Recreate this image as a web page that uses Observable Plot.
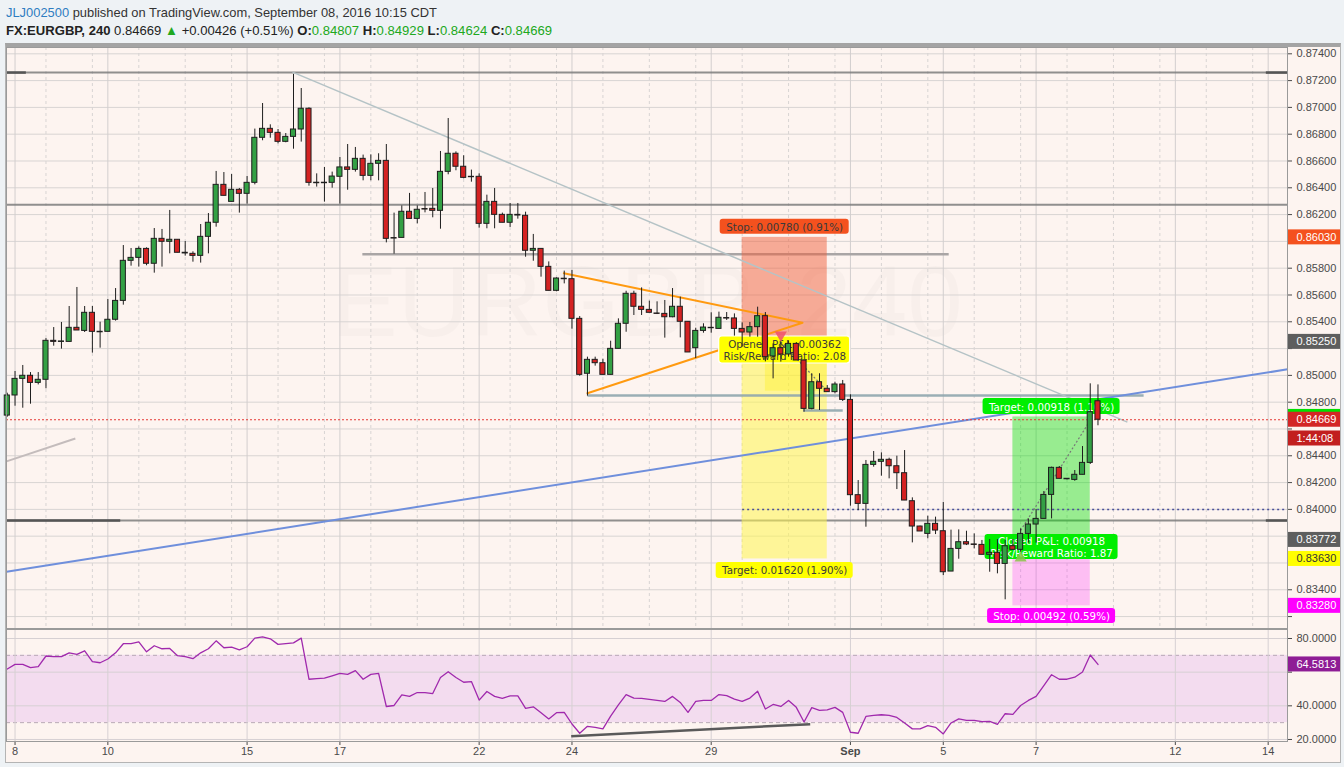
<!DOCTYPE html>
<html><head><meta charset="utf-8">
<script src="https://cdn.jsdelivr.net/npm/d3@7"></script>
<script src="https://cdn.jsdelivr.net/npm/@observablehq/plot@0.6"></script>
<style>
html,body{margin:0;padding:0;width:1344px;height:767px;overflow:hidden;background:#eef2f5;font-family:"Liberation Sans",Arial,sans-serif;}
#frame{position:absolute;left:5px;top:43px;width:1336px;height:720px;box-sizing:border-box;background:#fdf4f0;border-top:4px solid #a4a4a4;border-left:1px solid #b4b4b4;border-right:1px solid #b4b4b4;border-bottom:1px solid #b4b4b4;}
#price{position:absolute;left:6px;top:47px;}
#rsi{position:absolute;left:6px;top:629px;}
svg{overflow:visible;}
</style></head>
<body>
<svg id="hdr" width="1344" height="43" style="position:absolute;left:0;top:0">
<text x="6" y="17" font-family="Liberation Sans, Arial, sans-serif" font-size="13.5" fill="#333" textLength="431" lengthAdjust="spacingAndGlyphs"><tspan fill="#2e7dc1">JLJ002500</tspan> published on TradingView.com, September 08, 2016 10:15 CDT</text>
<text x="6" y="35" font-family="Liberation Sans, Arial, sans-serif" font-size="13.5" fill="#222" textLength="546" lengthAdjust="spacingAndGlyphs"><tspan font-weight="bold">FX:EURGBP, 240</tspan> 0.84669 <tspan fill="#20a820">▲</tspan> +0.00426 (+0.51%) <tspan font-weight="bold">O:</tspan><tspan fill="#20a820">0.84807</tspan> <tspan font-weight="bold">H:</tspan><tspan fill="#20a820">0.84929</tspan> <tspan font-weight="bold">L:</tspan><tspan fill="#20a820">0.84624</tspan> <tspan font-weight="bold">C:</tspan><tspan fill="#20a820">0.84669</tspan></text>
</svg>
<div id="frame"></div>
<div id="price"></div>
<div id="rsi"></div>
<script>
// ---------- DATA ----------
const openP = [0.84700,0.84850,0.84974,0.84997,0.84944,0.84967,0.85258,0.85250,0.85250,0.85355,
 0.85332,0.85467,0.85325,0.85325,0.85415,0.85556,0.85855,0.85877,0.85944,0.85833,
 0.86019,0.85997,0.86012,0.85915,0.85907,0.85892,0.86034,0.86139,0.86422,0.86295,
 0.86385,0.86355,0.86437,0.86773,0.86840,0.86810,0.86743,0.86780,0.86835,0.86990,
 0.86435,0.86435,0.86437,0.86482,0.86552,0.86534,0.86616,0.86489,0.86579,0.86601,
 0.86024,0.86026,0.86221,0.86168,0.86241,0.86243,0.86228,0.86519,0.86654,0.86557,
 0.86479,0.86482,0.86131,0.86295,0.86198,0.86139,0.86198,0.86191,0.85930,0.85944,
 0.85810,0.85631,0.85721,0.85718,0.85422,0.85012,0.85116,0.85091,0.85004,0.85198,
 0.85385,0.85609,0.85512,0.85489,0.85462,0.85459,0.85434,0.85512,0.85400,0.85203,
 0.85332,0.85355,0.85347,0.85427,0.85425,0.85347,0.85320,0.85360,0.85442,0.85141,
 0.85203,0.85156,0.85235,0.85111,0.84750,0.84949,0.84900,0.84875,0.84932,0.84817,
 0.84106,0.84041,0.84332,0.84355,0.84370,0.84322,0.84270,0.84061,0.83872,0.83817,
 0.83892,0.83837,0.83536,0.83705,0.83755,0.83738,0.83735,0.83661,0.83676,0.83593,
 0.83725,0.83698,0.83817,0.83887,0.83929,0.84108,0.84310,0.84228,0.84220,0.84258,
 0.84347,0.84807];
const highP = [0.84867,0.85029,0.85074,0.85021,0.85021,0.85275,0.85357,0.85395,0.85514,0.85656,
 0.85514,0.85514,0.85397,0.85566,0.85648,0.85969,0.85947,0.85959,0.85952,0.86096,
 0.86089,0.86231,0.86012,0.85999,0.85922,0.86126,0.86208,0.86522,0.86514,0.86499,
 0.86395,0.86484,0.86838,0.87029,0.86870,0.86835,0.86805,0.87246,0.87141,0.86997,
 0.86504,0.86552,0.86517,0.86626,0.86723,0.86701,0.86644,0.86646,0.86654,0.86723,
 0.86211,0.86265,0.86358,0.86265,0.86365,0.86395,0.86671,0.86917,0.86668,0.86639,
 0.86532,0.86504,0.86345,0.86395,0.86211,0.86283,0.86283,0.86218,0.86052,0.85944,
 0.85847,0.85728,0.85778,0.85783,0.85439,0.85136,0.85136,0.85121,0.85255,0.85422,
 0.85628,0.85628,0.85653,0.85554,0.85549,0.85559,0.85648,0.85584,0.85402,0.85352,
 0.85385,0.85467,0.85472,0.85469,0.85459,0.85392,0.85395,0.85509,0.85469,0.85235,
 0.85248,0.85258,0.85245,0.85116,0.85012,0.85012,0.84924,0.84949,0.84962,0.84855,
 0.84215,0.84365,0.84432,0.84422,0.84382,0.84397,0.84439,0.84086,0.83875,0.83949,
 0.83942,0.84051,0.83845,0.83847,0.83837,0.83817,0.83768,0.83775,0.83775,0.83768,
 0.83775,0.83855,0.83929,0.83999,0.84133,0.84315,0.84320,0.84228,0.84290,0.84469,
 0.84937,0.84929];
const lowP = [0.84688,0.84770,0.84755,0.84785,0.84929,0.84900,0.85218,0.85196,0.85250,0.85335,
 0.85320,0.85166,0.85203,0.85325,0.85405,0.85524,0.85815,0.85808,0.85818,0.85763,
 0.85808,0.85907,0.85915,0.85890,0.85845,0.85838,0.85907,0.86106,0.86340,0.86295,
 0.86211,0.86278,0.86422,0.86751,0.86770,0.86728,0.86736,0.86688,0.86741,0.86412,
 0.86405,0.86293,0.86397,0.86278,0.86382,0.86517,0.86452,0.86452,0.86452,0.85989,
 0.85905,0.86026,0.86168,0.86131,0.86213,0.86176,0.86091,0.86497,0.86527,0.86467,
 0.86442,0.86099,0.86094,0.86094,0.86139,0.86104,0.86166,0.85882,0.85852,0.85733,
 0.85631,0.85624,0.85683,0.85345,0.84994,0.84845,0.85069,0.85004,0.85004,0.85198,
 0.85322,0.85447,0.85447,0.85467,0.85454,0.85278,0.85430,0.85280,0.85171,0.85126,
 0.85315,0.85315,0.85347,0.85410,0.85293,0.85211,0.85285,0.85285,0.85101,0.84974,
 0.85099,0.85136,0.85111,0.84725,0.84743,0.84738,0.84875,0.84862,0.84805,0.84024,
 0.83991,0.83867,0.84315,0.84248,0.84228,0.84148,0.84066,0.83750,0.83835,0.83780,
 0.83812,0.83506,0.83536,0.83628,0.83730,0.83705,0.83661,0.83531,0.83519,0.83325,
 0.83698,0.83680,0.83748,0.83748,0.83929,0.83929,0.84228,0.84220,0.84210,0.84258,
 0.84335,0.84624];
const closeP = [0.84850,0.84974,0.84997,0.84944,0.84967,0.85258,0.85250,0.85253,0.85355,0.85335,
 0.85467,0.85325,0.85322,0.85415,0.85556,0.85855,0.85877,0.85944,0.85833,0.86019,
 0.85997,0.86012,0.85915,0.85910,0.85892,0.86034,0.86139,0.86422,0.86340,0.86385,
 0.86355,0.86437,0.86773,0.86840,0.86810,0.86743,0.86780,0.86835,0.86990,0.86437,
 0.86437,0.86437,0.86484,0.86552,0.86534,0.86616,0.86489,0.86579,0.86601,0.86019,
 0.86022,0.86221,0.86168,0.86236,0.86238,0.86228,0.86519,0.86654,0.86557,0.86474,
 0.86482,0.86131,0.86295,0.86198,0.86139,0.86198,0.86193,0.85930,0.85944,0.85810,
 0.85631,0.85723,0.85718,0.85422,0.85004,0.85116,0.85091,0.85004,0.85198,0.85385,
 0.85609,0.85512,0.85489,0.85467,0.85459,0.85434,0.85512,0.85400,0.85171,0.85332,
 0.85357,0.85352,0.85430,0.85425,0.85347,0.85320,0.85360,0.85442,0.85136,0.85203,
 0.85156,0.85235,0.85111,0.84750,0.84949,0.84900,0.84875,0.84932,0.84817,0.84106,
 0.84041,0.84332,0.84355,0.84370,0.84322,0.84270,0.84066,0.83872,0.83835,0.83892,
 0.83842,0.83531,0.83705,0.83755,0.83738,0.83735,0.83661,0.83676,0.83593,0.83725,
 0.83698,0.83817,0.83887,0.83929,0.84108,0.84310,0.84228,0.84225,0.84258,0.84347,
 0.84725,0.84669];
const rsiValues = [61.9,64.6,64.6,62.7,63.3,69.6,69.2,69.2,71.5,70.6,
 72.7,66.2,65.6,67.8,71.5,76.9,76.9,78.0,72.1,75.7,
 73.9,74.1,69.8,69.2,68.0,71.5,73.9,78.6,74.5,74.9,
 73.3,75.1,80.2,81.0,79.8,76.5,77.0,77.4,80.2,55.8,
 56.2,56.4,57.8,59.3,58.7,60.9,55.8,58.7,59.3,39.6,
 40.2,46.5,45.6,47.9,47.9,47.3,56.8,60.3,56.8,54.0,
 54.4,43.4,48.5,45.6,44.4,45.9,45.9,38.5,39.4,35.9,
 32.2,35.9,36.1,29.2,23.7,27.8,27.2,26.3,33.9,40.6,
 46.7,44.6,44.4,43.8,43.2,42.6,45.6,42.0,36.1,42.6,
 43.2,43.2,46.7,46.1,44.0,42.6,44.6,48.7,38.1,40.8,
 39.6,43.2,39.1,30.4,38.9,37.3,37.6,39.1,36.1,24.3,
 23.7,33.7,34.3,34.7,34.3,33.1,29.8,26.3,26.3,28.2,
 27.2,23.3,29.8,32.2,31.4,31.4,30.6,30.8,29.0,35.3,
 34.9,40.2,43.2,45.6,52.0,58.5,55.8,55.8,57.0,60.1,
 70.2,64.58];

// time axis (candle index of first 4h bar of the day)
const dayTickIndex = [1, 13, 31, 43, 61, 73, 91, 109, 121, 133, 151, 163];
const dayTickLabels = ["8", "10", "15", "17", "22", "24", "29", "Sep", "5", "7", "12", "14"];
const minorGridIndex = [5,11,17,23,29,35,41,47,53,59,65,71,77,83,89,95,101,107,113,119,125,131,137,143,149,155,161];
const priceTicks = [0.832,0.834,0.836,0.838,0.840,0.842,0.844,0.846,0.848,0.850,0.852,0.854,0.856,0.858,0.860,0.862,0.864,0.866,0.868,0.870,0.872,0.874];
const rsiTicks = [20, 40, 60, 80];
const rsiBand = [30, 70];
const lastPrice = 0.84669;
const lastRsi = 64.5813;

// drawings (candle index, price)
const hRayPrices = [0.87260, 0.86273, 0.83917];
const hRayHandles = [{x1: -0.1, x2: 2.4, y: 0.87260}, {x1: 162.7, x2: 165.5, y: 0.87260}, {x1: -0.1, x2: 14.6, y: 0.83917}, {x1: 162.7, x2: 165.5, y: 0.83917}];
const grayLevels = [{x1: 45.9, x2: 121.7, y: 0.85904}];
const steelLevels = [{x1: 75.0, x2: 146.9, y: 0.84850}, {x1: 102.9, x2: 108.0, y: 0.84738}];
const dottedLevel = {x1: 95.0, x2: 165.5, y: 0.84000};
const blueTrend = [{x1: -0.1, y1: 0.83534, x2: 165.5, y2: 0.85045}];
const grayTrend = [{x1: 36.87, y1: 0.87263, x2: 144.8, y2: 0.84651}];
const shortGrayLine = [{x1: -0.1, y1: 0.84358, x2: 8.8, y2: 0.84529}];
const triangleIdx = [71.95, 102.8, 75.0];
const trianglePrice = [0.85763, 0.85393, 0.84867];
const rsiDivergence = [{x1: 72.9, y1: 21.95, x2: 103.8, y2: 29.1}];

const shortPos = {start: 95, end: 106, entry: 0.85250, stop: 0.86030, target: 0.83630, pnlStart: 98, pnlPrice: 0.84882, openIdx: 100};
const longPos = {start: 130, end: 140, entry: 0.83772, stop: 0.83280, target: 0.84690, openIdx: 131, pathFrom: 0.83843, pathTo: 0.84664};
const shortTexts = ["Stop: 0.00780 (0.91%)", "Opened P&L: 0.00362\nRisk/Reward Ratio: 2.08", "Target: 0.01620 (1.90%)"];
const longTexts = ["Target: 0.00918 (1.10%)", "Closed P&L: 0.00918\nRisk/Reward Ratio: 1.87", "Stop: 0.00492 (0.59%)"];

const tagPrices = [0.86030, 0.85250, 0.84690, 0.84669, 0.84529, 0.83772, 0.83630, 0.83280];
const tagTexts  = ["0.86030", "0.85250", "", "0.84669", "1:44:08", "0.83772", "0.83630", "0.83280"];
const tagFills  = ["#f4511e", "#5e5e5e", "#00e000", "#d32626", "#c21f1f", "#5e5e5e", "#ffff00", "#ff00ff"];
const tagInk    = ["#fff", "#fff", "#fff", "#fff", "#fff", "#fff", "#333", "#fff"];

// ---------- CHART ----------
const W = 1334, RIGHT = 53;
const xDomain = [-0.103, 165.5];
const candles = openP.map((o, i) => ({i, o, h: highP[i], l: lowP[i], c: closeP[i]}));
const upCol = "#33a044", dnCol = "#d42222", edge = "#1e1e1e";
const lo = d => { const a = Math.min(d.o, d.c), b = Math.max(d.o, d.c); return b - a < 0.00003 ? (a + b) / 2 - 0.000018 : a; };
const hi = d => { const a = Math.min(d.o, d.c), b = Math.max(d.o, d.c); return b - a < 0.00003 ? (a + b) / 2 + 0.000018 : b; };
const labelFont = "DejaVu Sans, Verdana, sans-serif";
const fmt5 = d3.format(".5f");
// axis labels hidden where a price tag box covers them
const priceLabel = t => tagPrices.some(p => Math.abs(p - t) < 0.00085) ? "" : fmt5(t);
const rsiLabel = t => Math.abs(lastRsi - t) < 6.6 ? "" : d3.format(".4f")(t);

function box(xc, price, halfW, top, bottom, opts) {
  return Plot.rect([0], {x1: () => xc, x2: () => xc, y1: () => price, y2: () => price,
    insetLeft: -halfW, insetRight: -halfW, insetTop: top, insetBottom: -bottom, rx: 3, ...opts});
}
function boxText(xc, price, top, bottom, txt, ink) {
  return Plot.text([txt], {x: () => xc, y: () => price, text: d => d, dy: (top + bottom) / 2,
    fill: ink, fontSize: 10.3, fontFamily: labelFont, lineAnchor: "middle", lineHeight: 1.22});
}
const sC = (shortPos.start + shortPos.end) / 2, lC = (longPos.start + longPos.end) / 2;

const price = Plot.plot({
  width: W, height: 581, marginLeft: 0, marginRight: RIGHT, marginTop: 0, marginBottom: 0,
  x: {domain: xDomain, axis: null},
  y: {domain: [0.83111, 0.87447]},
  style: {background: "none", fontFamily: "Liberation Sans, Arial, sans-serif", fontSize: "11px", color: "#4a4a4a", overflow: "visible"},
  marks: [
    Plot.text(["EURGBP, 240"], {frameAnchor: "middle", dy: -34, fontSize: 100, fill: "#000", fillOpacity: 0.018, fontFamily: "Liberation Sans, Arial"}),
    Plot.text(["Euro / British Pound"], {frameAnchor: "middle", dy: 45, fontSize: 44, fill: "#000", fillOpacity: 0.018, fontFamily: "Liberation Sans, Arial"}),
    Plot.gridY(priceTicks, {stroke: "#d8d4d3", strokeOpacity: 1}),
    Plot.ruleX(minorGridIndex, {stroke: "#d8d4d3", strokeDasharray: "3,3"}),
    Plot.ruleX(dayTickIndex, {stroke: "#d2cece"}),
    // horizontal rays
    Plot.ruleY(hRayPrices, {stroke: "#7d7d7d", strokeWidth: 2, strokeOpacity: 0.85}),
    Plot.link(hRayHandles, {x1: "x1", x2: "x2", y1: "y", y2: "y", stroke: "#555", strokeWidth: 2.5}),
    Plot.link(grayLevels, {x1: "x1", x2: "x2", y1: "y", y2: "y", stroke: "#a9a5a5", strokeWidth: 2.5}),
    // positions
    Plot.rect([shortPos], {x1: "start", x2: "end", y1: "entry", y2: "stop", fill: "#f0603c", fillOpacity: 0.5}),
    Plot.rect([shortPos], {x1: "start", x2: "end", y1: "target", y2: "entry", fill: "#fff650", fillOpacity: 0.55}),
    Plot.rect([shortPos], {x1: "pnlStart", x2: "end", y1: "pnlPrice", y2: "entry", fill: "#ffee00", fillOpacity: 0.3}),
    Plot.rect([longPos], {x1: "start", x2: "end", y1: "entry", y2: "target", fill: "#00e000", fillOpacity: 0.4}),
    Plot.rect([longPos], {x1: "start", x2: "end", y1: "stop", y2: "entry", fill: "#ff00ff", fillOpacity: 0.22}),
    Plot.link(steelLevels, {x1: "x1", x2: "x2", y1: "y", y2: "y", stroke: "#8fa6ae", strokeWidth: 2.5, strokeOpacity: 0.9}),
    Plot.link([dottedLevel], {x1: "x1", x2: "x2", y1: "y", y2: "y", stroke: "#4a4f9a", strokeWidth: 1.5, strokeDasharray: "2,3"}),
    Plot.link(blueTrend, {x1: "x1", y1: "y1", x2: "x2", y2: "y2", stroke: "#6f8fdc", strokeWidth: 2}),
    Plot.link(grayTrend, {x1: "x1", y1: "y1", x2: "x2", y2: "y2", stroke: "#b5c3c6", strokeWidth: 1.5}),
    Plot.link(shortGrayLine, {x1: "x1", y1: "y1", x2: "x2", y2: "y2", stroke: "#c4bcbc", strokeWidth: 2}),
    Plot.line(triangleIdx, {x: d => d, y: (d, i) => trianglePrice[i], stroke: "#ff9a10", strokeWidth: 2}),
    Plot.ruleY([lastPrice], {stroke: "#e53935", strokeDasharray: "2,2", strokeWidth: 1}),
    // position labels
    box(sC, shortPos.stop, 64.5, -18, -3, {fill: "#f4511e"}),
    boxText(sC, shortPos.stop, -18, -3, shortTexts[0], "#3a3a3a"),
    box(sC, shortPos.entry, 65.5, -5.4, 21.6, {fill: "#ffff00", stroke: "#fff", strokeWidth: 1.2}),
    boxText(sC, shortPos.entry, -5.4, 21.6, shortTexts[1], "#3a3a3a"),
    box(sC, shortPos.target, 68.5, 3.5, 19.5, {fill: "#ffff00"}),
    boxText(sC, shortPos.target, 3.5, 19.5, shortTexts[2], "#3a3a3a"),
    box(lC, longPos.target, 68.5, -18.4, -2.4, {fill: "#00ee00"}),
    boxText(lC, longPos.target, -18.4, -2.4, longTexts[0], "#fff"),
    box(lC, longPos.entry, 66.5, -5.5, 19.5, {fill: "#00ee00"}),
    boxText(lC, longPos.entry, -5.5, 19.5, longTexts[1], "#fff"),
    box(lC, longPos.stop, 64, 2.6, 17.6, {fill: "#ff00ff"}),
    boxText(lC, longPos.stop, 2.6, 17.6, longTexts[2], "#fff"),
    Plot.link([shortPos], {x1: "openIdx", y1: "entry", x2: "end", y2: "pnlPrice", stroke: "#777", strokeDasharray: "2,2", strokeWidth: 1.2}),
    Plot.link([longPos], {x1: "openIdx", y1: "pathFrom", x2: "end", y2: "pathTo", stroke: "#777", strokeDasharray: "2,2", strokeWidth: 1.2}),
    Plot.dot([shortPos], {x: "openIdx", y: "entry", dy: -7, symbol: "triangle", rotate: 180, r: 4.5, fill: "#f0506a", fillOpacity: 0.85}),
    Plot.dot([longPos], {x: "openIdx", y: "entry", dy: 18, symbol: "triangle", r: 4.5, fill: "#8bc34a", fillOpacity: 0.85}),
    // candles
    Plot.ruleX(candles, {x: "i", y1: "l", y2: "h", stroke: edge, strokeWidth: 1}),
    Plot.rect(candles, {x1: d => d.i - 0.33, x2: d => d.i + 0.33, y1: lo, y2: hi, fill: d => d.c >= d.o ? upCol : dnCol, stroke: edge, strokeWidth: 1}),
    // axis + tags
    Plot.axisY(priceTicks, {anchor: "right", tickSize: 4, tickPadding: 5, tickFormat: priceLabel}),
    Plot.rect(tagPrices, {x1: () => xDomain[1], x2: () => xDomain[1], y1: d => d, y2: d => d, insetLeft: 1, insetRight: -RIGHT, insetTop: -7.5, insetBottom: -7.5, fill: (d, i) => tagFills[i]}),
    Plot.text(tagPrices, {y: d => d, text: (d, i) => tagTexts[i], frameAnchor: "right", dx: 9, textAnchor: "start", fill: (d, i) => tagInk[i], fontSize: 11}),
    Plot.frame({stroke: "#9a9a9a"})
  ]
});
document.getElementById("price").appendChild(price);

const labelMap = new Map(dayTickIndex.map((d, i) => [d, dayTickLabels[i]]));
const rsi = Plot.plot({
  width: W, height: 133, marginLeft: 0, marginRight: RIGHT, marginTop: 0, marginBottom: 21,
  x: {domain: xDomain},
  y: {domain: [18.8, 85.35]},
  style: {background: "none", fontFamily: "Liberation Sans, Arial, sans-serif", fontSize: "11px", color: "#4a4a4a", overflow: "visible"},
  marks: [
    Plot.rect([rsiBand], {x1: () => xDomain[0], x2: () => xDomain[1], y1: d => d[0], y2: d => d[1], fill: "#f3dcef"}),
    Plot.gridY(rsiTicks, {stroke: "#d6d0d3", strokeOpacity: 1}),
    Plot.ruleY(rsiBand, {stroke: "#b9a9b6", strokeDasharray: "4,3"}),
    Plot.ruleX(dayTickIndex, {stroke: "#d6d0d3"}),
    Plot.line(rsiValues, {x: (d, i) => i, y: d => d, stroke: "#a029ad", strokeWidth: 1.3}),
    Plot.link(rsiDivergence, {x1: "x1", y1: "y1", x2: "x2", y2: "y2", stroke: "#5a5a5a", strokeWidth: 2.5}),
    Plot.axisY(rsiTicks, {anchor: "right", tickSize: 4, tickPadding: 5, tickFormat: rsiLabel}),
    Plot.rect([lastRsi], {x1: () => xDomain[1], x2: () => xDomain[1], y1: d => d, y2: d => d, insetLeft: 1, insetRight: -RIGHT, insetTop: -7.5, insetBottom: -7.5, fill: "#8e1c95"}),
    Plot.text([lastRsi], {y: d => d, text: d => d3.format(".4f")(d), frameAnchor: "right", dx: 9, textAnchor: "start", fill: "#fff", fontSize: 11}),
    Plot.axisX(dayTickIndex.filter(d => labelMap.get(d) !== "Sep"), {anchor: "bottom", tickSize: 4, tickPadding: 2, tickFormat: d => labelMap.get(d)}),
    Plot.axisX(dayTickIndex.filter(d => labelMap.get(d) === "Sep"), {anchor: "bottom", tickSize: 4, tickPadding: 2, tickFormat: d => labelMap.get(d), fontWeight: "bold"}),
    Plot.frame({stroke: "#9a9a9a"})
  ]
});
document.getElementById("rsi").appendChild(rsi);
</script>
</body></html>
